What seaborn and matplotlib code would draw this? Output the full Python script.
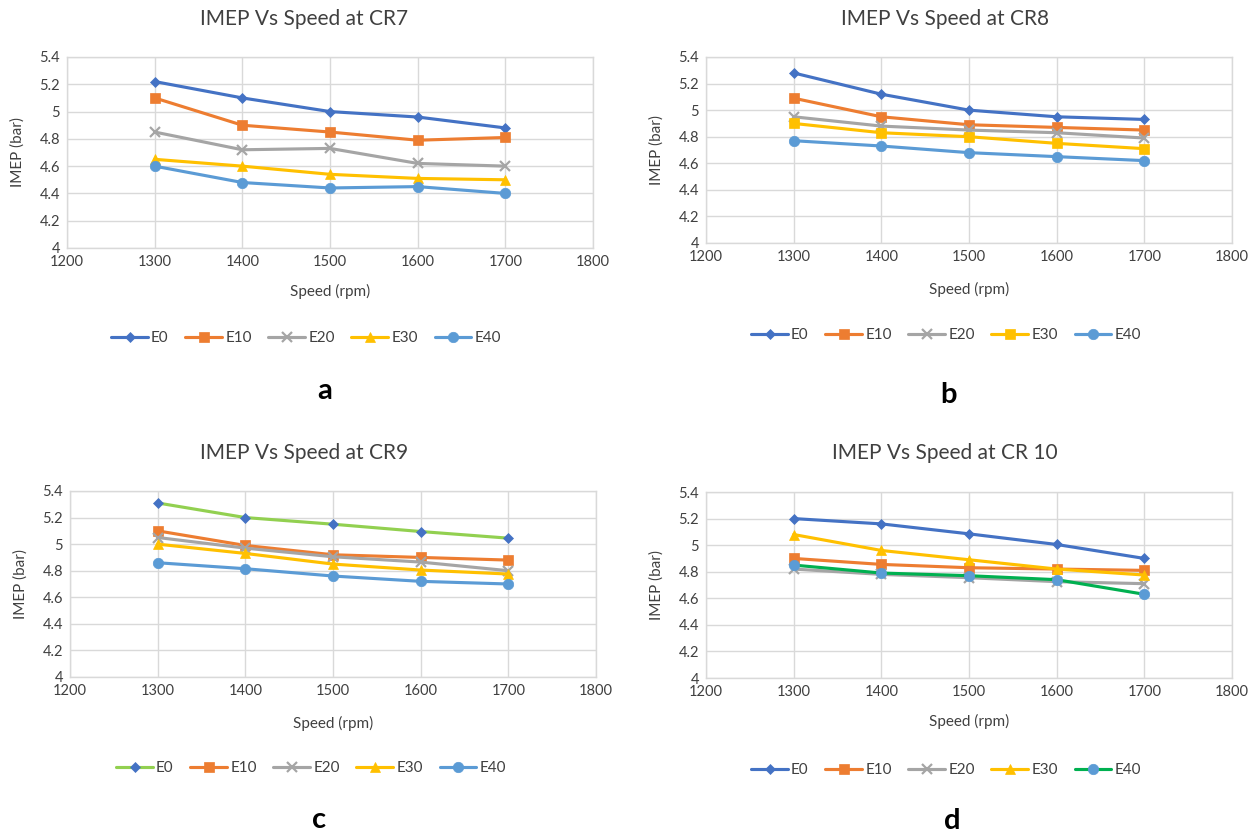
import matplotlib
matplotlib.use("Agg")
import matplotlib.pyplot as plt
import seaborn as sns
import pandas as pd
from matplotlib.ticker import FuncFormatter

speed = [1300, 1400, 1500, 1600, 1700]
series_names = ["E0", "E10", "E20", "E30", "E40"]

# CR7
cr7_e0 = [5.22, 5.10, 5.00, 4.96, 4.88]
cr7_e10 = [5.10, 4.90, 4.85, 4.79, 4.81]
cr7_e20 = [4.85, 4.72, 4.73, 4.62, 4.60]
cr7_e30 = [4.65, 4.60, 4.54, 4.51, 4.50]
cr7_e40 = [4.60, 4.48, 4.44, 4.45, 4.40]
# CR8
cr8_e0 = [5.28, 5.12, 5.00, 4.95, 4.93]
cr8_e10 = [5.09, 4.95, 4.89, 4.87, 4.85]
cr8_e20 = [4.95, 4.88, 4.85, 4.83, 4.79]
cr8_e30 = [4.90, 4.83, 4.80, 4.75, 4.71]
cr8_e40 = [4.77, 4.73, 4.68, 4.65, 4.62]
# CR9
cr9_e0 = [5.31, 5.20, 5.15, 5.095, 5.045]
cr9_e10 = [5.10, 4.99, 4.92, 4.90, 4.88]
cr9_e20 = [5.05, 4.97, 4.905, 4.865, 4.80]
cr9_e30 = [5.00, 4.93, 4.85, 4.805, 4.775]
cr9_e40 = [4.86, 4.815, 4.76, 4.72, 4.70]
# CR10
cr10_e0 = [5.20, 5.16, 5.085, 5.005, 4.90]
cr10_e10 = [4.90, 4.855, 4.83, 4.82, 4.81]
cr10_e20 = [4.82, 4.78, 4.755, 4.725, 4.71]
cr10_e30 = [5.08, 4.96, 4.89, 4.82, 4.775]
cr10_e40 = [4.85, 4.79, 4.77, 4.74, 4.63]

titles = ["IMEP Vs Speed at CR7", "IMEP Vs Speed at CR8",
          "IMEP Vs Speed at CR9", "IMEP Vs Speed at CR 10"]
letters = ["a", "b", "c", "d"]
x_label = "Speed (rpm)"
y_label = "IMEP (bar)"

BLUE = "#4472C4"; ORANGE = "#ED7D31"; GRAY = "#A5A5A5"; YELLOW = "#FFC000"
LBLUE = "#5B9BD5"; LGREEN = "#92D050"; GREEN = "#00B050"

sns.set_theme(style="white")
plt.rcParams['font.family'] = ['Lato', 'DejaVu Sans']

W, H = 1256, 834
fig = plt.figure(figsize=(W / 100, H / 100), dpi=100)


def rect(x0, x1, ytop, ybot):
    return [x0 / W, 1 - ybot / H, (x1 - x0) / W, (ybot - ytop) / H]


panels = [
    dict(data=[cr7_e0, cr7_e10, cr7_e20, cr7_e30, cr7_e40],
         rect=rect(67, 593, 57, 248),
         styles=[(BLUE, BLUE, "D", 5.5), (ORANGE, ORANGE, "s", 7), (GRAY, GRAY, "x", 7.5),
                 (YELLOW, YELLOW, "^", 7.5), (LBLUE, LBLUE, "o", 7.5)],
         title=(304, 19), xlabel_y=291, legend=(306, 338), letter=(325, 391)),
    dict(data=[cr8_e0, cr8_e10, cr8_e20, cr8_e30, cr8_e40],
         rect=rect(706, 1232, 57, 243),
         styles=[(BLUE, BLUE, "D", 5.5), (ORANGE, ORANGE, "s", 7), (GRAY, GRAY, "x", 7.5),
                 (YELLOW, YELLOW, "s", 7), (LBLUE, LBLUE, "o", 7.5)],
         title=(945, 19), xlabel_y=289, legend=(946, 335), letter=(948, 395)),
    dict(data=[cr9_e0, cr9_e10, cr9_e20, cr9_e30, cr9_e40],
         rect=rect(70, 596, 491, 677),
         styles=[(LGREEN, BLUE, "D", 5.5), (ORANGE, ORANGE, "s", 7), (GRAY, GRAY, "x", 7.5),
                 (YELLOW, YELLOW, "^", 7.5), (LBLUE, LBLUE, "o", 7.5)],
         title=(304, 453), xlabel_y=723, legend=(311, 768), letter=(319, 820)),
    dict(data=[cr10_e0, cr10_e10, cr10_e20, cr10_e30, cr10_e40],
         rect=rect(706, 1232, 492, 678),
         styles=[(BLUE, BLUE, "D", 5.5), (ORANGE, ORANGE, "s", 7), (GRAY, GRAY, "x", 7.5),
                 (YELLOW, YELLOW, "^", 7.5), (GREEN, LBLUE, "o", 7.5)],
         title=(945, 453), xlabel_y=721, legend=(946, 770), letter=(952, 821)),
]

fmt = FuncFormatter(lambda v, p: ("%.1f" % v).rstrip("0").rstrip("."))
TXT = "#404040"

for i, p in enumerate(panels):
    ax = fig.add_axes(p["rect"])
    for name, vals, (lc, mc, mk, ms) in zip(series_names, p["data"], p["styles"]):
        df = pd.DataFrame({"speed": speed, "imep": vals})
        sns.lineplot(data=df, x="speed", y="imep", ax=ax, color=lc, linewidth=2.25,
                     marker=mk, markersize=ms, markerfacecolor=mc,
                     markeredgecolor=mc, markeredgewidth=1.6 if mk == "x" else 0.5,
                     label=name)
    handles, labels = ax.get_legend_handles_labels()
    if ax.get_legend():
        ax.get_legend().remove()
    ax.set_xlim(1200, 1800)
    ax.set_ylim(4, 5.4)
    ax.set_xticks(range(1200, 1801, 100))
    ax.set_yticks([4 + 0.2 * k for k in range(8)])
    ax.yaxis.set_major_formatter(fmt)
    ax.grid(True, color="#D9D9D9", linewidth=1)
    for s in ax.spines.values():
        s.set_color("#D9D9D9")
        s.set_linewidth(1)
    ax.tick_params(axis="both", labelsize=10.5, colors=TXT, length=0, pad=5)
    ax.set_xlabel("")
    ax.set_ylabel(y_label, fontsize=11, color=TXT)
    ax.yaxis.set_label_coords(-0.08, 0.5)
    tx, ty = p["title"]
    fig.text(tx / W, 1 - ty / H, titles[i], ha="center", va="center",
             fontsize=15, color=TXT)
    bb = ax.get_position()
    cx = (bb.x0 + bb.x1) / 2
    fig.text(cx, 1 - p["xlabel_y"] / H, x_label, ha="center", va="center",
             fontsize=11, color=TXT)
    lx, ly = p["legend"]
    fig.legend(handles, labels, loc="center", ncol=5, frameon=False,
               bbox_to_anchor=(lx / W, 1 - ly / H), fontsize=11,
               handlelength=2.4, columnspacing=1.1, handletextpad=0.2,
               labelcolor=TXT)
    gx, gy = p["letter"]
    fig.text(gx / W, 1 - gy / H, letters[i], ha="center", va="center",
             fontsize=21, fontweight="bold", color="black")

fig.savefig("out.png", dpi=100, facecolor="white")
